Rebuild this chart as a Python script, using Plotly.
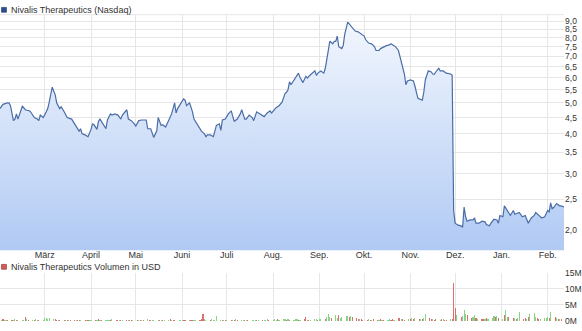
import math
import pandas as pd
import plotly.graph_objects as go

# ---------------- data ----------------
price_dates = [
    "2016-01-31", "2016-02-02", "2016-02-05", "2016-02-06", "2016-02-07", "2016-02-09", "2016-02-10",
    "2016-02-11", "2016-02-12", "2016-02-14", "2016-02-15", "2016-02-17", "2016-02-20", "2016-02-21",
    "2016-02-23", "2016-02-25", "2016-02-26", "2016-02-27", "2016-02-29", "2016-03-02", "2016-03-03",
    "2016-03-04", "2016-03-05", "2016-03-06", "2016-03-08", "2016-03-09", "2016-03-11", "2016-03-12",
    "2016-03-14", "2016-03-16", "2016-03-19", "2016-03-21", "2016-03-24", "2016-03-25", "2016-03-26",
    "2016-03-28", "2016-03-30", "2016-04-01", "2016-04-02", "2016-04-03", "2016-04-05", "2016-04-06",
    "2016-04-07", "2016-04-09", "2016-04-11", "2016-04-12", "2016-04-14", "2016-04-15", "2016-04-17",
    "2016-04-19", "2016-04-21", "2016-04-22", "2016-04-25", "2016-04-26", "2016-04-28", "2016-04-30",
    "2016-05-01", "2016-05-03", "2016-05-05", "2016-05-08", "2016-05-09", "2016-05-11", "2016-05-13",
    "2016-05-15", "2016-05-16", "2016-05-18", "2016-05-19", "2016-05-21", "2016-05-23", "2016-05-24",
    "2016-05-25", "2016-05-27", "2016-05-28", "2016-05-29", "2016-05-31", "2016-06-02", "2016-06-03",
    "2016-06-04", "2016-06-06", "2016-06-08", "2016-06-09", "2016-06-10", "2016-06-12", "2016-06-14",
    "2016-06-16", "2016-06-17", "2016-06-18", "2016-06-20", "2016-06-22", "2016-06-23", "2016-06-24",
    "2016-06-26", "2016-06-27", "2016-06-28", "2016-06-30", "2016-07-02", "2016-07-04", "2016-07-05",
    "2016-07-06", "2016-07-08", "2016-07-10", "2016-07-11", "2016-07-13", "2016-07-14", "2016-07-16",
    "2016-07-18", "2016-07-19", "2016-07-21", "2016-07-23", "2016-07-24", "2016-07-26", "2016-07-28",
    "2016-07-30", "2016-07-31", "2016-08-02", "2016-08-03", "2016-08-05", "2016-08-07", "2016-08-09",
    "2016-08-10", "2016-08-11", "2016-08-12", "2016-08-13", "2016-08-15", "2016-08-17", "2016-08-18",
    "2016-08-19", "2016-08-21", "2016-08-23", "2016-08-24", "2016-08-25", "2016-08-27", "2016-08-29",
    "2016-08-30", "2016-08-31", "2016-09-02", "2016-09-04", "2016-09-05", "2016-09-06", "2016-09-07",
    "2016-09-08", "2016-09-10", "2016-09-11", "2016-09-12", "2016-09-13", "2016-09-14", "2016-09-16",
    "2016-09-17", "2016-09-18", "2016-09-20", "2016-09-22", "2016-09-23", "2016-09-25", "2016-09-27",
    "2016-09-29", "2016-10-01", "2016-10-02", "2016-10-04", "2016-10-06", "2016-10-08", "2016-10-09",
    "2016-10-11", "2016-10-12", "2016-10-14", "2016-10-16", "2016-10-18", "2016-10-19", "2016-10-21",
    "2016-10-22", "2016-10-24", "2016-10-25", "2016-10-26", "2016-10-28", "2016-10-29", "2016-10-30",
    "2016-11-01", "2016-11-03", "2016-11-04", "2016-11-05", "2016-11-06", "2016-11-07", "2016-11-09",
    "2016-11-10", "2016-11-11", "2016-11-13", "2016-11-15", "2016-11-16", "2016-11-17", "2016-11-18",
    "2016-11-20", "2016-11-21", "2016-11-23", "2016-11-25", "2016-11-27", "2016-11-28", "2016-11-29",
    "2016-11-30", "2016-12-01", "2016-12-03", "2016-12-05", "2016-12-06", "2016-12-07", "2016-12-08",
    "2016-12-09", "2016-12-11", "2016-12-13", "2016-12-14", "2016-12-15", "2016-12-17", "2016-12-19",
    "2016-12-21", "2016-12-22", "2016-12-24", "2016-12-25", "2016-12-27", "2016-12-29", "2016-12-30",
    "2016-12-31", "2017-01-02", "2017-01-03", "2017-01-05", "2017-01-07", "2017-01-09", "2017-01-10",
    "2017-01-13", "2017-01-15", "2017-01-17", "2017-01-19", "2017-01-21", "2017-01-23", "2017-01-24",
    "2017-01-26", "2017-01-28", "2017-01-30", "2017-02-01", "2017-02-02", "2017-02-03", "2017-02-04",
    "2017-02-05", "2017-02-07", "2017-02-09", "2017-02-10", "2017-02-12",
]
price_values = [
    4.8, 4.95, 5.0, 5.0, 4.9, 4.4, 4.45,
    4.62, 4.45, 4.72, 4.88, 4.76, 4.72, 4.65,
    4.5, 4.45, 4.4, 4.58, 4.5, 4.69, 4.8,
    5.03, 5.3, 5.6, 5.3, 5.0, 4.8, 4.86,
    4.69, 4.5, 4.45, 4.3, 4.08, 4.15, 4.0,
    3.97, 3.92, 4.13, 4.3, 4.27, 4.13, 4.38,
    4.45, 4.3, 4.15, 4.42, 4.62, 4.58, 4.62,
    4.58, 4.45, 4.58, 4.76, 4.45, 4.4, 4.3,
    4.23, 4.4, 4.42, 4.42, 4.15, 4.15, 3.9,
    4.08, 4.5, 4.25, 4.27, 4.2, 4.38, 4.5,
    4.62, 5.0, 4.65, 4.8, 5.0, 5.15, 5.1,
    4.9, 5.0, 4.69, 4.45, 4.38, 4.23, 4.08,
    4.0, 3.92, 3.97, 3.97, 3.92, 4.13, 4.25,
    4.3, 4.1, 4.42, 4.45, 4.62, 4.72, 4.53,
    4.38, 4.45, 4.62, 4.76, 4.45, 4.45, 4.58,
    4.5, 4.4, 4.69, 4.62, 4.58, 4.53, 4.65,
    4.72, 4.65, 4.76, 4.83, 4.9, 5.03, 5.35,
    5.4, 5.5, 5.82, 5.7, 5.9, 6.06, 6.2,
    6.02, 5.79, 6.06, 5.98, 6.06, 6.16, 6.3,
    6.1, 6.2, 6.3, 6.2, 6.42, 6.9, 7.5,
    7.8, 7.66, 7.8, 7.8, 8.1, 7.5, 7.4,
    7.56, 8.2, 8.95, 8.75, 8.6, 8.4, 8.35,
    8.2, 8.1, 7.9, 7.7, 7.66, 7.5, 7.3,
    7.3, 7.4, 7.5, 7.56, 7.6, 7.66, 7.56,
    7.5, 7.3, 7.0, 6.6, 6.16, 5.7, 5.86,
    5.9, 5.86, 5.66, 5.4, 5.18, 5.15, 5.1,
    5.4, 5.9, 6.3, 6.25, 6.16, 6.15, 6.25,
    6.42, 6.3, 6.3, 6.2, 6.16, 6.16, 6.1,
    2.3, 2.1, 2.07, 2.06, 2.04, 2.36, 2.2,
    2.13, 2.15, 2.15, 2.18, 2.1, 2.1, 2.13,
    2.12, 2.08, 2.06, 2.1, 2.16, 2.15, 2.1,
    2.22, 2.2, 2.38, 2.3, 2.22, 2.3, 2.24,
    2.27, 2.2, 2.22, 2.1, 2.18, 2.22, 2.27,
    2.22, 2.18, 2.2, 2.3, 2.28, 2.43, 2.33,
    2.35, 2.42, 2.38, 2.38, 2.36,
]

# daily volume (million USD) per trading day, month by month
vol_feb16 = [0.4, 0.6, 0.3, 0.5, 0.4, 0.3, 0.5, 0.7, 0.4, 0.3, 0.5, 0.4, 1.3, 0.6, 0.3, 0.5, 0.4, 0.6, 0.3, 0.5, 0.4]
vol_mar16 = [0.9, 1.0, 0.8, 1.1, 0.7, 0.6, 0.5, 0.4, 0.5, 0.4, 0.3, 0.5, 0.4, 0.3, 0.4, 0.5, 0.3, 0.4, 0.3, 0.5, 0.4, 0.3, 0.4]
vol_apr16 = [0.4, 0.5, 0.3, 0.6, 0.4, 0.3, 0.5, 0.4, 0.3, 0.4, 0.6, 0.3, 0.4, 0.5, 0.3, 0.4, 0.3, 0.5, 0.4, 0.3, 0.4]
vol_may16 = [0.3, 0.4, 0.5, 0.3, 0.4, 0.6, 0.4, 0.3, 0.5, 0.4, 0.3, 0.4, 0.5, 0.3, 0.4, 0.5, 0.6, 0.4, 0.3, 0.4, 0.3, 0.5]
vol_jun16 = [0.4, 0.5, 0.3, 0.4, 0.5, 0.4, 0.3, 0.4, 0.5, 0.6, 2.1, 0.7, 0.5, 0.4, 0.6, 0.5, 0.4, 1.5, 0.5, 0.4, 0.3, 0.4]
vol_jul16 = [0.4, 0.3, 0.5, 0.4, 0.6, 0.4, 0.3, 0.5, 0.4, 0.3, 0.4, 0.5, 0.3, 0.4, 0.5, 0.4, 0.3, 0.5, 0.4, 0.6, 0.5]
vol_aug16 = [0.5, 0.6, 0.4, 0.7, 0.5, 0.6, 0.8, 0.5, 0.6, 0.4, 0.5, 0.7, 0.6, 0.5, 0.4, 0.6, 1.3, 0.5, 0.4, 0.5, 0.6, 0.7, 0.5]
vol_sep16 = [0.6, 0.8, 0.7, 1.2, 2.1, 1.3, 0.9, 1.8, 0.9, 1.8, 1.0, 1.4, 1.5, 1.6, 1.2, 1.5, 1.2, 1.0, 0.7, 0.6, 0.8, 0.5]
vol_oct16 = [0.5, 0.6, 0.4, 0.5, 0.7, 0.4, 0.5, 0.6, 0.4, 0.5, 0.4, 0.6, 0.5, 0.7, 0.4, 0.9, 1.0, 0.6, 0.7, 0.5, 0.6]
vol_nov16 = [0.8, 0.9, 0.7, 1.0, 0.6, 0.8, 0.7, 0.9, 2.3, 0.9, 0.7, 0.6, 0.5, 0.6, 0.5, 0.7, 0.6, 0.5, 0.4, 0.6, 0.7, 11.8]
vol_dec16 = [4.0, 1.8, 1.2, 1.5, 3.5, 2.2, 2.0, 1.0, 1.2, 2.0, 1.0, 0.8, 0.7, 0.8, 0.6, 0.9, 0.6, 0.9, 1.5, 1.2, 1.6, 1.0]
vol_jan17 = [0.6, 1.8, 3.6, 1.4, 1.2, 1.0, 0.9, 0.8, 1.1, 2.7, 0.7, 1.0, 0.8, 1.2, 2.3, 2.5, 1.2, 1.0, 0.7, 0.8, 1.0, 1.1]
vol_feb17 = [1.2, 0.9, 2.7, 1.3, 1.0, 0.7, 0.8, 0.8]

# day direction: g = price up (green bar), r = price down (red bar)
dir_months = [
    "grggrrggrgggrgrgrggrg",
    "gggggrrgrrgrgrrgrrgrgrg",
    "grgrgrgggrgrrgrgrgrrg",
    "rgrgrgrrgggrgrggrgrrgg",
    "grrgrrggrrrggrgggggrgr",
    "grgrgrggrgrgggrgrgggr",
    "gggrgggrgrgggrgrrgrgggr",
    "ggrgggrggrggggrgrrrgrr",
    "rgrgrrgrgrggrrgrrgrrg",
    "rgrgrgrggrrgrrgrgrrgrr",
    "rgrgggrrggrgrrgrgggrgr",
    "grggrrgrggrrgrgggrrggg",
    "grgrgrgr",
]

month_ticks = ["2016-03-01", "2016-04-01", "2016-05-01", "2016-06-01", "2016-07-01", "2016-08-01",
               "2016-09-01", "2016-10-01", "2016-11-01", "2016-12-01", "2017-01-01", "2017-02-01"]
month_labels = ["März", "April", "Mai", "Juni", "Juli", "Aug.", "Sep.", "Okt.", "Nov.", "Dez.", "Jan.", "Feb."]

price_ticks = [2.0, 2.5, 3.0, 3.5, 4.0, 4.5, 5.0, 5.5, 6.0, 6.5, 7.0, 7.5, 8.0, 8.5, 9.0]
vol_ticks = [0, 5, 10, 15]
vol_tick_labels = ["0M", "5M", "10M", "15M"]

title_price = "Nivalis Therapeutics (Nasdaq)"
title_volume = "Nivalis Therapeutics Volumen in USD"

# ---------------- build ----------------
volume = (vol_feb16 + vol_mar16 + vol_apr16 + vol_may16 + vol_jun16 + vol_jul16 + vol_aug16
          + vol_sep16 + vol_oct16 + vol_nov16 + vol_dec16 + vol_jan17 + vol_feb17)
directions = "".join(dir_months)
vol_dates = list(pd.bdate_range("2016-02-01", "2017-02-10"))
n = min(len(volume), len(directions), len(vol_dates))
volume, directions, vol_dates = volume[:n], directions[:n], vol_dates[:n]

W, H = 582, 331
plot_right = 567 / W
GRID = "#e6e6e6"
TXT = "#333333"
FONT = "Liberation Sans, Arial, sans-serif"
Y_LO, Y_HI = 1.726, 9.45
PRICE_TOP, PRICE_BOTTOM = 10, 253
VOL_TOP, VOL_BOTTOM = 276, 326

bar_colors = ["#86d486" if d == "g" else "#dc7070" for d in directions]

fig = go.Figure()
fig.add_trace(go.Scatter(
    x=price_dates, y=price_values, mode="lines",
    line=dict(color="#4a6da6", width=1.2),
    fill="tozeroy",
    fillgradient=dict(type="vertical", start=Y_LO, stop=Y_HI,
                      colorscale=[[0.0, "#aec8f3"], [1.0, "#f4f8fe"]]),
    xaxis="x", yaxis="y", hoverinfo="skip",
))
fig.add_trace(go.Bar(
    x=vol_dates, y=volume, marker=dict(color=bar_colors, line=dict(width=0)),
    width=0.75 * 86400000, xaxis="x2", yaxis="y2", hoverinfo="skip",
))

x_range = ["2016-01-31", "2017-02-12"]
common_x = dict(range=x_range, type="date", tickmode="array", tickvals=month_ticks,
                showgrid=True, gridcolor=GRID, gridwidth=1, zeroline=False, showline=False,
                domain=[0, plot_right], fixedrange=True)

fig.update_layout(
    width=W, height=H, margin=dict(l=0, r=0, t=0, b=0),
    paper_bgcolor="white", plot_bgcolor="white", showlegend=False,
    separators=",.", bargap=0,
    font=dict(family=FONT, size=9, color=TXT),
    xaxis=dict(**common_x, anchor="y", ticktext=month_labels, ticks="",
               ticklabelstandoff=-2, tickfont=dict(size=9, color=TXT)),
    yaxis=dict(type="log", range=[math.log10(Y_LO), math.log10(Y_HI)],
               domain=[(H - PRICE_BOTTOM) / H, (H - PRICE_TOP) / H], side="right", anchor="x",
               tickmode="array", tickvals=price_ticks, tickformat=".1f",
               showgrid=True, gridcolor=GRID, zeroline=False, showline=False,
               ticks="", tickfont=dict(size=8.5, color=TXT), fixedrange=True),
    xaxis2=dict(**common_x, anchor="y2", showticklabels=False, ticks=""),
    yaxis2=dict(range=[0, 15], domain=[(H - VOL_BOTTOM) / H, (H - VOL_TOP) / H], side="right",
                anchor="x2", tickmode="array", tickvals=vol_ticks, ticktext=vol_tick_labels,
                showgrid=True, gridcolor=GRID, zeroline=False, showline=False, ticks="",
                tickfont=dict(size=8.5, color=TXT), fixedrange=True),
    shapes=[
        dict(type="line", xref="paper", yref="paper", x0=0, x1=plot_right,
             y0=(H - PRICE_TOP) / H, y1=(H - PRICE_TOP) / H, line=dict(color=GRID, width=1)),
        dict(type="rect", xref="paper", yref="paper", x0=1.5 / W, x1=6.5 / W,
             y0=(H - 7.5) / H, y1=(H - 2.5) / H, fillcolor="#2c4f8f",
             line=dict(color="#1c3566", width=0.6)),
        dict(type="rect", xref="paper", yref="paper", x0=1.5 / W, x1=6.5 / W,
             y0=(H - 272.5) / H, y1=(H - 267.5) / H, fillcolor="#d45a5a",
             line=dict(color="#8a2e2e", width=0.6)),
    ],
    annotations=[
        dict(text=title_price, xref="paper", yref="paper", x=9 / W, y=(H - 5) / H,
             xanchor="left", yanchor="middle", showarrow=False,
             font=dict(size=9, color=TXT, family=FONT)),
        dict(text=title_volume, xref="paper", yref="paper", x=9 / W, y=(H - 270) / H,
             xanchor="left", yanchor="middle", showarrow=False,
             font=dict(size=9, color=TXT, family=FONT)),
    ],
)

fig.write_html("out.html", config={"displayModeBar": False, "staticPlot": True})
